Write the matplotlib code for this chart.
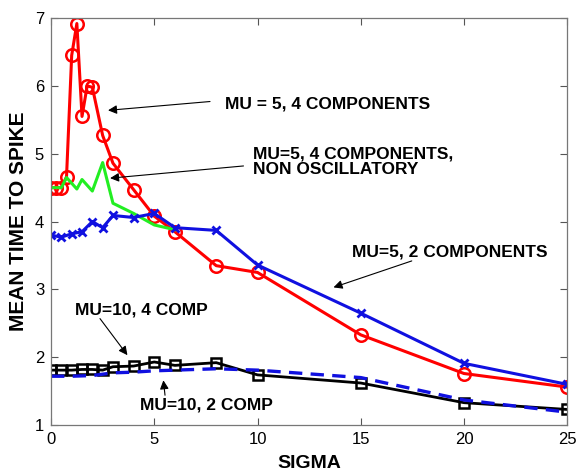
import matplotlib.pyplot as plt

plt.rcParams['font.family'] = ['Liberation Sans', 'DejaVu Sans']

# mean time to spike vs sigma, MU=5 runs
sigma_red = [0, 0.25, 0.5, 0.75, 1, 1.25, 1.5, 1.75, 2, 2.5, 3, 4, 5, 6, 8, 10, 15, 20, 25]
mts_red = [4.5, 4.5, 4.5, 4.66, 6.45, 6.92, 5.55, 6.0, 5.98, 5.27, 4.86, 4.47, 4.08, 3.85,
           3.35, 3.25, 2.33, 1.76, 1.56]

sigma_green = [0, 0.5, 0.75, 1.25, 1.5, 2, 2.5, 3, 4, 5, 6]
mts_green = [4.5, 4.5, 4.65, 4.48, 4.62, 4.45, 4.87, 4.27, 4.12, 3.95, 3.88]

sigma_blue = [0, 0.5, 1, 1.5, 2, 2.5, 3, 4, 5, 6, 8, 10, 15, 20, 25]
mts_blue = [3.80, 3.77, 3.82, 3.85, 4.0, 3.91, 4.09, 4.06, 4.12, 3.91, 3.87, 3.36, 2.65, 1.91, 1.6]

# MU=10 runs
sigma_black = [0, 0.5, 1, 1.5, 2, 2.5, 3, 4, 5, 6, 8, 10, 15, 20, 25]
mts_black = [1.81, 1.81, 1.81, 1.82, 1.82, 1.81, 1.86, 1.87, 1.93, 1.88, 1.92, 1.74, 1.62, 1.33, 1.23]

sigma_dash = [0, 1, 2, 3, 4, 5, 6, 8, 10, 15, 20, 25]
mts_dash = [1.72, 1.72, 1.73, 1.77, 1.78, 1.80, 1.81, 1.83, 1.81, 1.70, 1.37, 1.19]

fig = plt.figure(figsize=(5.8, 4.76), dpi=100)
ax = fig.add_axes([0.088, 0.107, 0.89, 0.855])

ax.plot(sigma_black, mts_black, color='black', lw=2, marker='s', ms=7,
        mfc='none', mew=1.8)
ax.plot(sigma_dash, mts_dash, color='#1010e0', lw=2.4, ls=(0, (4, 2.5)))
ax.plot(sigma_red, mts_red, color='red', lw=2.2, marker='o', ms=9, mfc='none', mew=1.8)
ax.plot(sigma_green, mts_green, color='#22ee22', lw=2.2)
ax.plot(sigma_blue, mts_blue, color='#1010e0', lw=2.2, marker='x', ms=6, mew=2)

ax.set_xlim(0, 25)
ax.set_ylim(1, 7)
ax.set_xticks([0, 5, 10, 15, 20, 25])
ax.set_yticks([1, 2, 3, 4, 5, 6, 7])
ax.tick_params(direction='in', top=True, right=True, labelsize=12, length=5,
               color='#555555', pad=5)
for s in ax.spines.values():
    s.set_color('#777777')
    s.set_linewidth(0.9)

ax.set_xlabel('SIGMA', fontsize=14, fontweight='bold', labelpad=6)
ax.set_ylabel('MEAN TIME TO SPIKE', fontsize=15, fontweight='bold', labelpad=5)

arrow = dict(arrowstyle='-|>', color='black', lw=0.8, mutation_scale=13,
             shrinkA=0, shrinkB=0)
tkw = dict(fontsize=12.5, fontweight='bold', va='center', ha='left')

ax.annotate('', xy=(2.76, 5.64), xytext=(7.7, 5.77), arrowprops=arrow)
ax.text(8.43, 5.73, 'MU = 5, 4 COMPONENTS', **tkw)

ax.annotate('', xy=(2.86, 4.64), xytext=(9.32, 4.82), arrowprops=arrow)
ax.text(9.79, 4.88, 'MU=5, 4 COMPONENTS,\nNON OSCILLATORY', linespacing=1.1, **tkw)

ax.annotate('', xy=(13.68, 3.03), xytext=(17.47, 3.42), arrowprops=arrow)
ax.text(14.57, 3.55, 'MU=5, 2 COMPONENTS', **tkw)

ax.annotate('', xy=(3.7, 2.03), xytext=(2.37, 2.57), arrowprops=arrow)
ax.text(1.16, 2.69, 'MU=10, 4 COMP', **tkw)

ax.annotate('', xy=(5.44, 1.66), xytext=(5.52, 1.44), arrowprops=arrow)
ax.text(4.31, 1.29, 'MU=10, 2 COMP', **tkw)

fig.savefig('out.png', dpi=100)
